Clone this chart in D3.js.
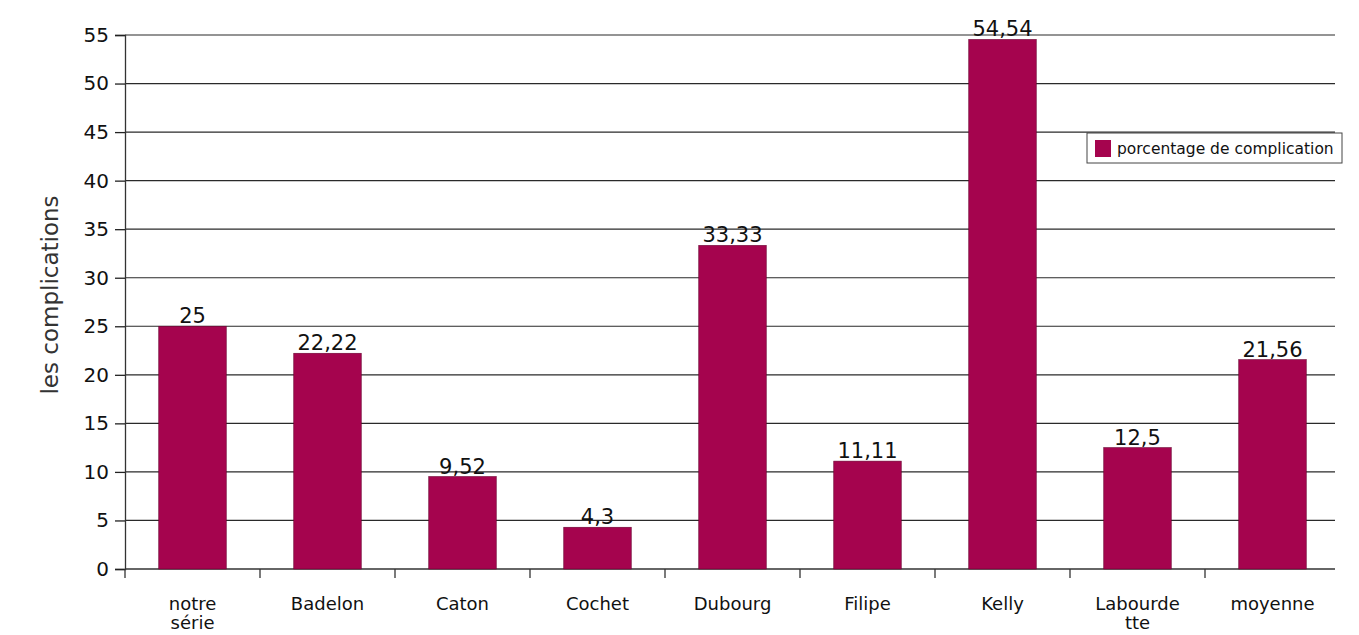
<!DOCTYPE html>
<html><head><meta charset="utf-8">
<script src="https://cdn.jsdelivr.net/npm/d3@7"></script>
<style>body{margin:0;background:#fff;} svg{display:block;font-family:"DejaVu Sans",sans-serif;}</style>
</head><body><div id="chart"></div>
<script>
const categories = [["notre","série"],["Badelon"],["Caton"],["Cochet"],["Dubourg"],["Filipe"],["Kelly"],["Labourde","tte"],["moyenne"]];
const values = [25, 22.22, 9.52, 4.3, 33.33, 11.11, 54.54, 12.5, 21.56];
const valueLabels = ["25","22,22","9,52","4,3","33,33","11,11","54,54","12,5","21,56"];
const yTicks = [0,5,10,15,20,25,30,35,40,45,50,55];
const seriesName = "porcentage de complication";
const yTitle = "les complications";

(function(){
const W = 1359, H = 635;
const mLeft = 125, mRight = 1340, mTop = 35, mBottom = 569;
const color = "#a5044e";
const font = "DejaVu Sans, sans-serif";

const svg = d3.select("#chart").append("svg").attr("width", W).attr("height", H);
const keys = categories.map((c,i)=>i);
const x = d3.scaleBand().domain(keys).range([mLeft, mRight]).paddingInner(0.5).paddingOuter(0.25);
const xb = d3.scaleBand().domain(keys).range([mLeft, mRight]);
const y = d3.scaleLinear().domain([0,55]).range([mBottom, mTop]);

// gridlines
svg.append("g").selectAll("line").data(yTicks.filter(t=>t>0)).join("line")
  .attr("x1", mLeft).attr("x2", 1335).attr("y1", d=>y(d)).attr("y2", d=>y(d))
  .attr("stroke", "#2a2a2a").attr("stroke-width", 1.2);

// y axis
const yAxis = svg.append("g").attr("transform", `translate(${mLeft},0)`)
  .call(d3.axisLeft(y).tickValues(yTicks).tickSize(10).tickPadding(6));
yAxis.select(".domain").attr("stroke","#333").attr("stroke-width",1.3);
yAxis.selectAll(".tick line").attr("stroke","#222").attr("stroke-width",1.3);
yAxis.selectAll("text").attr("font-size", 20).attr("fill","#111").attr("font-family",font);

// x axis
const xAxis = svg.append("g").attr("transform", `translate(0,${mBottom})`);
xAxis.append("line").attr("x1", mLeft).attr("x2", 1335).attr("stroke","#333").attr("stroke-width",1.3);
xAxis.selectAll("line.tk").data(keys).join("line").attr("class","tk")
  .attr("x1", d=>xb(d)).attr("x2", d=>xb(d))
  .attr("y1",0).attr("y2",9).attr("stroke","#333").attr("stroke-width",1.3);
const xl = xAxis.selectAll("text").data(keys).join("text")
  .attr("x", d=>xb(d)+xb.bandwidth()/2).attr("y", 41)
  .attr("text-anchor","middle").attr("font-size",18).attr("fill","#111");
xl.each(function(d){
  const t = d3.select(this);
  categories[d].forEach((line,i)=>{
    t.append("tspan").attr("x", xb(d)+xb.bandwidth()/2).attr("dy", i===0?0:19).text(line);
  });
});

// bars
svg.append("g").selectAll("rect").data(keys).join("rect")
  .attr("x", d=>x(d)).attr("width", x.bandwidth())
  .attr("y", d=>y(values[d])).attr("height", d=>mBottom - y(values[d]))
  .attr("fill", color).attr("stroke","#6a0030").attr("stroke-width",0.6);

// value labels
svg.append("g").selectAll("text").data(keys).join("text")
  .attr("x", d=>x(d)+x.bandwidth()/2).attr("y", d=>y(values[d])-3)
  .attr("text-anchor","middle").attr("font-size",21).attr("fill","#111")
  .text(d=>valueLabels[d]);

// y title
svg.append("text").attr("transform", `translate(58,295) rotate(-90)`)
  .attr("text-anchor","middle").attr("font-size",23).attr("fill","#333").text(yTitle);

// legend
const lg = svg.append("g").attr("transform","translate(1087,133)");
lg.append("rect").attr("width",255).attr("height",30).attr("fill","#fff").attr("stroke","#444").attr("stroke-width",1);
lg.append("rect").attr("x",8).attr("y",7).attr("width",16).attr("height",17).attr("fill",color);
lg.append("text").attr("x",30).attr("y",21).attr("font-size",15.5).attr("fill","#111").text(seriesName);
})();
</script></body></html>
